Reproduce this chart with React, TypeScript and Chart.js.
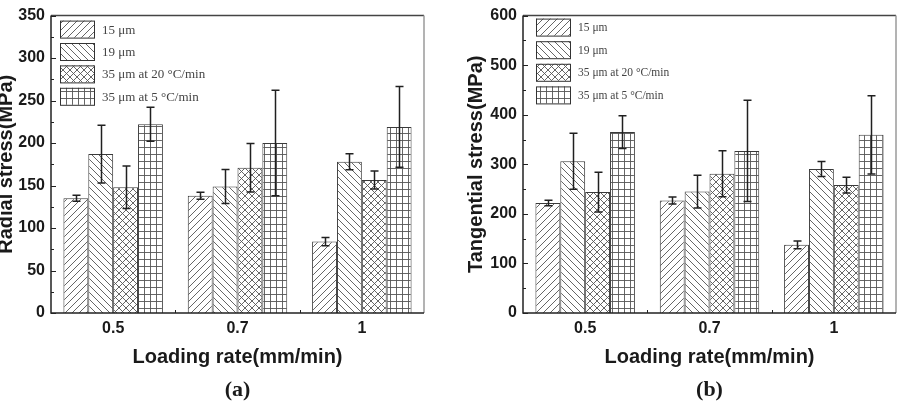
import { useEffect, useRef } from 'react';
import { Chart, registerables } from 'chart.js';

Chart.register(...registerables);

// Loading rates (mm/min) on the x axis
const categories = ['0.5', '0.7', '1'];
const seriesNames = ['15 μm', '19 μm', '35 μm at 20 °C/min', '35 μm at 5 °C/min'];

// (a) radial stress, MPa
const radial15 = [135, 138, 84];
const radial19 = [187, 149, 178];
const radial35at20 = [148, 171, 156.5];
const radial35at5 = [222, 200, 219];
const radialErr15 = [3.5, 4, 5];
const radialErr19 = [34, 20, 9.5];
const radialErr35at20 = [25, 28.5, 10.5];
const radialErr35at5 = [20, 62, 47.5];
const radialTicks = { min: 0, max: 350, step: 50 };

// (b) tangential stress, MPa
const tangential15 = [222, 227, 137.5];
const tangential19 = [306, 245, 290.5];
const tangential35at20 = [244, 281, 258];
const tangential35at5 = [365, 327, 359.5];
const tangentialErr15 = [5.5, 7, 8];
const tangentialErr19 = [56.5, 33, 15];
const tangentialErr35at20 = [40, 46.5, 16];
const tangentialErr35at5 = [33, 102, 79];
const tangentialTicks = { min: 0, max: 600, step: 100 };

const SANS = '"Liberation Sans", Arial, sans-serif';
const SERIF = '"Liberation Serif", "Times New Roman", serif';
const INK = '#1a1a1a';

type Hatch = 'fwd' | 'back' | 'cross' | 'grid';
const hatches: Hatch[] = ['fwd', 'back', 'cross', 'grid'];

function makeTile(kind: Hatch): HTMLCanvasElement {
  const w = kind === 'grid' ? 6 : 7;
  const h = 7;
  const c = document.createElement('canvas');
  c.width = w;
  c.height = h;
  const g = c.getContext('2d')!;
  g.fillStyle = '#ffffff';
  g.fillRect(0, 0, w, h);
  g.strokeStyle = '#555555';
  g.lineWidth = 0.9;
  const line = (x1: number, y1: number, x2: number, y2: number) => {
    g.beginPath();
    g.moveTo(x1, y1);
    g.lineTo(x2, y2);
    g.stroke();
  };
  const fwd = () => {
    line(-1, h + 1, w + 1, -1);
    line(-1, 1, 1, -1);
    line(w - 1, h + 1, w + 1, h - 1);
  };
  const back = () => {
    line(-1, -1, w + 1, h + 1);
    line(w - 1, -1, w + 1, 1);
    line(-1, h - 1, 1, h + 1);
  };
  if (kind === 'fwd') fwd();
  if (kind === 'back') back();
  if (kind === 'cross') {
    fwd();
    back();
  }
  if (kind === 'grid') {
    line(0.5, 0, 0.5, h);
    line(0, 0.5, w, 0.5);
  }
  return c;
}

interface PanelSpec {
  values: number[][];
  errors: number[][];
  ticks: { min: number; max: number; step: number };
  yTitle: string;
  letter: string;
  yAxisWidth: number;
  yTitlePad: number;
  padRight: number;
  legendDx: number;
  legendDy: number;
  legendStep: number;
  legendFont: number;
}

const panelA: PanelSpec = {
  values: [radial15, radial19, radial35at20, radial35at5],
  errors: [radialErr15, radialErr19, radialErr35at20, radialErr35at5],
  ticks: radialTicks,
  yTitle: 'Radial stress(MPa)',
  letter: '(a)',
  yAxisWidth: 51,
  yTitlePad: -6,
  padRight: 26,
  legendDx: 9,
  legendDy: 5,
  legendStep: 22.4,
  legendFont: 13,
};

const panelB: PanelSpec = {
  values: [tangential15, tangential19, tangential35at20, tangential35at5],
  errors: [tangentialErr15, tangentialErr19, tangentialErr35at20, tangentialErr35at5],
  ticks: tangentialTicks,
  yTitle: 'Tangential stress(MPa)',
  letter: '(b)',
  yAxisWidth: 73,
  yTitlePad: 14,
  padRight: 5,
  legendDx: 13,
  legendDy: 3,
  legendStep: 22.6,
  legendFont: 11.5,
};

function buildChart(canvas: HTMLCanvasElement, spec: PanelSpec): Chart {
  const ctx = canvas.getContext('2d')!;
  const patterns = hatches.map((h) => ctx.createPattern(makeTile(h), 'repeat')!);

  const decor = {
    id: 'panelDecor',
    afterDatasetsDraw(chart: Chart) {
      const c = chart.ctx;
      const y = chart.scales.y;
      c.save();
      c.strokeStyle = '#202020';
      c.lineWidth = 1.5;
      spec.errors.forEach((errs, di) => {
        const meta = chart.getDatasetMeta(di);
        errs.forEach((e, j) => {
          const v = spec.values[di][j];
          const bar = meta.data[j] as any;
          const x = Math.round(bar.x) + 0.5;
          const hi = y.getPixelForValue(v + e);
          const lo = y.getPixelForValue(v - e);
          c.beginPath();
          c.moveTo(x, hi);
          c.lineTo(x, lo);
          c.moveTo(x - 4, hi);
          c.lineTo(x + 4, hi);
          c.moveTo(x - 4, lo);
          c.lineTo(x + 4, lo);
          c.stroke();
        });
      });
      c.restore();
    },
    afterDraw(chart: Chart) {
      const c = chart.ctx;
      const { left, right, top, bottom } = chart.chartArea;
      const y = chart.scales.y;
      const x = chart.scales.x;
      c.save();
      // frame: top and right in lighter strokes
      c.lineWidth = 1.5;
      c.strokeStyle = '#444';
      c.beginPath();
      c.moveTo(left, top);
      c.lineTo(right, top);
      c.stroke();
      c.strokeStyle = '#9a9a9a';
      c.beginPath();
      c.moveTo(right, top);
      c.lineTo(right, bottom);
      c.stroke();
      c.strokeStyle = '#222';
      c.beginPath();
      c.moveTo(left, top);
      c.lineTo(left, bottom);
      c.lineTo(right, bottom);
      c.stroke();
      // inward y ticks, minor halfway between majors
      c.lineWidth = 1;
      const { min, max, step } = spec.ticks;
      for (let v = min; v <= max; v += step / 2) {
        const py = Math.round(y.getPixelForValue(v)) + 0.5;
        const major = Math.abs((v - min) % step) < 1e-6;
        c.beginPath();
        c.moveTo(left, py);
        c.lineTo(left + (major ? 5 : 3), py);
        c.stroke();
      }
      // inward x ticks at category boundaries
      for (let i = 1; i < categories.length; i++) {
        const px = Math.round((x.getPixelForTick(i - 1) + x.getPixelForTick(i)) / 2) + 0.5;
        c.beginPath();
        c.moveTo(px, bottom);
        c.lineTo(px, bottom - 3);
        c.stroke();
      }
      // legend
      const bw = 34;
      const bh = 17;
      c.font = `${spec.legendFont}px ${SERIF}`;
      c.textBaseline = 'middle';
      c.textAlign = 'left';
      seriesNames.forEach((name, i) => {
        const bx = left + spec.legendDx;
        const by = top + spec.legendDy + i * spec.legendStep;
        c.fillStyle = patterns[i];
        c.fillRect(bx, by, bw, bh);
        c.strokeStyle = '#333';
        c.lineWidth = 1;
        c.strokeRect(bx + 0.5, by + 0.5, bw, bh);
        c.fillStyle = '#444';
        c.fillText(name, bx + bw + 8, by + bh / 2 + 1);
      });
      // panel letter
      c.fillStyle = INK;
      c.font = `bold 22px ${SERIF}`;
      c.textAlign = 'center';
      c.fillText(spec.letter, (left + right) / 2, 390);
      c.restore();
    },
  };

  return new Chart(canvas, {
    type: 'bar',
    data: {
      labels: categories,
      datasets: spec.values.map((vals, i) => ({
        label: seriesNames[i],
        data: vals,
        backgroundColor: patterns[i],
        borderColor: '#3a3a3a',
        borderWidth: 1,
        barPercentage: 1,
        categoryPercentage: 0.8,
      })),
    },
    options: {
      responsive: false,
      maintainAspectRatio: false,
      animation: false,
      layout: { padding: { left: 0, top: 12, right: spec.padRight, bottom: 0 } },
      plugins: { legend: { display: false }, tooltip: { enabled: false } },
      scales: {
        x: {
          type: 'category',
          offset: true,
          grid: { display: false, drawTicks: false },
          border: { display: false },
          ticks: { font: { family: SANS, size: 16, weight: 'bold' }, color: INK, padding: 6 },
          title: {
            display: true,
            text: 'Loading rate(mm/min)',
            font: { family: SANS, size: 20, weight: 'bold' },
            color: INK,
            padding: { top: 0, bottom: 41 },
          },
          afterFit: (s: any) => {
            s.height = 97;
          },
        },
        y: {
          min: spec.ticks.min,
          max: spec.ticks.max,
          grid: { display: false, drawTicks: false },
          border: { display: false },
          ticks: {
            stepSize: spec.ticks.step,
            font: { family: SANS, size: 16, weight: 'bold' },
            color: INK,
            padding: 6,
          },
          title: {
            display: true,
            text: spec.yTitle,
            font: { family: SANS, size: 20, weight: 'bold' },
            color: INK,
            padding: { top: spec.yTitlePad, bottom: 0 },
          },
          afterFit: (s: any) => {
            s.width = spec.yAxisWidth;
          },
        },
      },
    },
    plugins: [decor],
  } as any);
}

function Panel({ spec, left, width }: { spec: PanelSpec; left: number; width: number }) {
  const ref = useRef<HTMLCanvasElement>(null);
  useEffect(() => {
    const chart = buildChart(ref.current!, spec);
    return () => chart.destroy();
  }, [spec]);
  return (
    <canvas
      ref={ref}
      width={width}
      height={410}
      style={{ position: 'absolute', left, top: 0, width, height: 410 }}
    />
  );
}

export default function App() {
  return (
    <div style={{ position: 'absolute', left: 0, top: 0, width: 901, height: 410, background: '#fff', overflow: 'hidden' }}>
      <Panel spec={panelA} left={0} width={450} />
      <Panel spec={panelB} left={450} width={451} />
    </div>
  );
}
